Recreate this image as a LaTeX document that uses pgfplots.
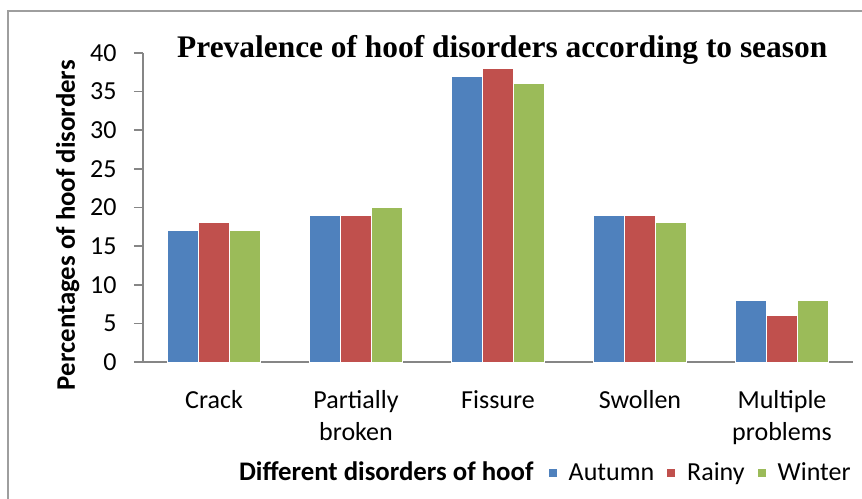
\documentclass[border=0pt]{standalone}
\usepackage{pgfplots}
\pgfplotsset{compat=1.18}
\usepackage{fontspec}
\setmainfont{Carlito}
\newfontfamily\titlefont{Liberation Serif}
\definecolor{autumn}{HTML}{4F81BD}
\definecolor{rainy}{HTML}{C0504D}
\definecolor{winter}{HTML}{9BBB59}
\definecolor{axisgray}{HTML}{868686}
\begin{document}
\begin{tikzpicture}
\useasboundingbox (0,0) rectangle (431pt,249pt);
\clip (0,0) rectangle (431pt,249pt);
% outer chart frame (right and bottom edges are cut off in the reference)
\draw[axisgray!80, line width=0.8pt] (4pt,-5pt) -- (4pt,243.5pt) -- (440pt,243.5pt);
\begin{axis}[
  at={(71.5pt,68pt)}, anchor=south west,
  scale only axis, width=355pt, height=154.5pt,
  xmin=-0.5, xmax=4.5, ymin=0, ymax=40,
  ybar=0pt, bar width=15.5pt,
  xtick={0,...,4},
  xticklabels={Crack, Partially\\broken, Fissure, Swollen, Multiple\\problems},
  ytick={0,5,...,40},
  axis x line*=bottom, axis y line*=left,
  axis line style={axisgray, line width=0.8pt, -},
  major x tick style={draw=none},
  major y tick style={axisgray, line width=0.8pt},
  tick align=outside, major tick length=4.5pt,
  /pgf/number format/assume math mode=true,
  tick label style={font=\fontsize{13}{16}\selectfont},
  xticklabel style={align=center, anchor=north, inner sep=0pt, yshift=-9.5pt},
  yticklabel style={anchor=east, inner sep=0pt, xshift=-8.5pt},
  title={Prevalence of hoof disorders according to season},
  title style={at={(0.506,0.945)}, anchor=base, font=\titlefont\bfseries\fontsize{15.7}{18}\selectfont},
  xlabel={Different disorders of hoof},
  xlabel style={at={(0.56,-0.385)}, anchor=base east, font=\bfseries\fontsize{13.4}{15}\selectfont},
  ylabel={Percentages of hoof disorders},
  ylabel style={at={(-0.106,0.443)}, anchor=center, font=\bfseries\fontsize{13.4}{15}\selectfont},
  legend style={at={(0.561,-0.36)}, anchor=west, draw=none, fill=none,
    legend columns=-1, font=\fontsize{13}{16}\selectfont,
    /tikz/every odd column/.append style={column sep=3.5pt},
    /tikz/every even column/.append style={column sep=4pt}},
  legend image code/.code={\fill[#1] (0pt,-2.25pt) rectangle (4.5pt,2.25pt);},
]
\addplot[fill=autumn, draw=white, line width=0.5pt] coordinates {(0,17) (1,19) (2,37) (3,19) (4,8)};
\addplot[fill=rainy, draw=white, line width=0.5pt] coordinates {(0,18) (1,19) (2,38) (3,19) (4,6)};
\addplot[fill=winter, draw=white, line width=0.5pt] coordinates {(0,17) (1,20) (2,36) (3,18) (4,8)};
\legend{Autumn, Rainy, Winter}
\end{axis}
\end{tikzpicture}
\end{document}
